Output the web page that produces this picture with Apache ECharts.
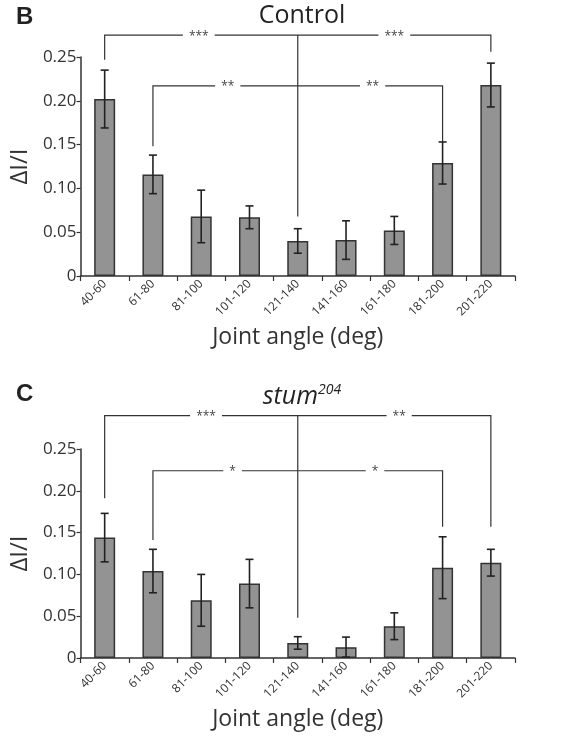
<!DOCTYPE html>
<html>
<head>
<meta charset="utf-8">
<script src="https://cdn.jsdelivr.net/npm/echarts@6/dist/echarts.min.js"></script>
<style>
  html, body { margin: 0; padding: 0; background: #fff; }
  #main { width: 582px; height: 736px; }
</style>
</head>
<body>
<div id="main"></div>
<script>
var categories = ['40-60', '61-80', '81-100', '101-120', '121-140', '141-160', '161-180', '181-200', '201-220'];
var yTicks = [0, 0.05, 0.10, 0.15, 0.20, 0.25];

// panel B: Control
var controlMean = [0.202, 0.116, 0.068, 0.067, 0.040, 0.041, 0.052, 0.129, 0.218];
var controlErr  = [0.033, 0.022, 0.030, 0.013, 0.014, 0.022, 0.016, 0.024, 0.025];
// panel C: stum204
var stumMean = [0.144, 0.104, 0.069, 0.089, 0.018, 0.013, 0.038, 0.108, 0.114];
var stumErr  = [0.029, 0.026, 0.031, 0.029, 0.0075, 0.012, 0.016, 0.037, 0.016];

// significance brackets (category index / data value)
var controlBrackets = [
    {left: 0, right: 8, level: 0.275, leftEnd: 0.247, rightEnd: 0.256, stars: ['***', '***'], starAt: [1.95, 6.0]},
    {left: 1, right: 7, level: 0.217, leftEnd: 0.148, rightEnd: 0.153, stars: ['**', '**'], starAt: [2.55, 5.55]}
];
var controlStem = {at: 4, top: 0.275, bottom: 0.068};
var stumBrackets = [
    {left: 0, right: 8, level: 0.290, leftEnd: 0.191, rightEnd: 0.157, stars: ['***', '**'], starAt: [2.1, 6.1]},
    {left: 1, right: 7, level: 0.224, leftEnd: 0.141, rightEnd: 0.157, stars: ['*', '*'], starAt: [2.65, 5.6]}
];
var stumStem = {at: 4, top: 0.290, bottom: 0.048};

var ink = '#333';
var fontMain = '"Open Sans", "DejaVu Sans", sans-serif';

function errData(mean, err) {
    var out = [];
    for (var i = 0; i < mean.length; i++) {
        out.push([i, mean[i] - err[i], mean[i] + err[i]]);
    }
    return out;
}

function renderErr(params, api) {
    var lo = api.coord([api.value(0), api.value(1)]);
    var hi = api.coord([api.value(0), api.value(2)]);
    var cap = 4;
    var st = {stroke: '#222', lineWidth: 1.6};
    return {
        type: 'group',
        children: [
            {type: 'line', shape: {x1: lo[0], y1: lo[1], x2: hi[0], y2: hi[1]}, style: st},
            {type: 'line', shape: {x1: hi[0] - cap, y1: hi[1], x2: hi[0] + cap, y2: hi[1]}, style: st},
            {type: 'line', shape: {x1: lo[0] - cap, y1: lo[1], x2: lo[0] + cap, y2: lo[1]}, style: st}
        ]
    };
}

function makeBracketRender(list, stem) {
    return function (params, api) {
        var k = api.value(0);
        var st = {stroke: ink, lineWidth: 1.2, fill: null};
        if (k >= list.length) {
            var a = api.coord([stem.at, stem.top]);
            var b = api.coord([stem.at, stem.bottom]);
            return {type: 'line', shape: {x1: a[0], y1: a[1], x2: b[0], y2: b[1]}, style: st};
        }
        var br = list[k];
        var pl = api.coord([br.left, br.level]);
        var pr = api.coord([br.right, br.level]);
        var el = api.coord([br.left, br.leftEnd]);
        var er = api.coord([br.right, br.rightEnd]);
        var step = api.coord([1, br.level])[0] - api.coord([0, br.level])[0];
        var x0 = api.coord([0, br.level])[0];
        var kids = [{
            type: 'polyline',
            shape: {points: [[el[0], el[1]], [pl[0], pl[1]], [pr[0], pr[1]], [er[0], er[1]]]},
            style: st
        }];
        for (var j = 0; j < br.stars.length; j++) {
            kids.push({
                type: 'text',
                style: {
                    x: x0 + step * br.starAt[j],
                    y: pl[1] + 1,
                    text: br.stars[j],
                    fill: '#444',
                    font: '12px ' + fontMain,
                    align: 'center',
                    verticalAlign: 'middle',
                    backgroundColor: '#fff',
                    padding: [0, 6]
                }
            });
        }
        return {type: 'group', children: kids};
    };
}

function bracketData(list) {
    var d = [];
    for (var i = 0; i <= list.length; i++) d.push([i]);
    return d;
}

function xAxisFor(gi) {
    return {
        type: 'category',
        gridIndex: gi,
        data: categories,
        name: 'Joint angle (deg)',
        nameLocation: 'middle',
        nameGap: 50,
        nameTextStyle: {fontSize: 23, color: ink, fontFamily: fontMain},
        axisLine: {lineStyle: {color: ink, width: 1.5}},
        axisTick: {show: true, length: 5, lineStyle: {color: ink, width: 1.2}},
        axisLabel: {rotate: 45, fontSize: 12, color: ink, fontFamily: fontMain, margin: 6, interval: 0},
        splitLine: {show: false}
    };
}

function yAxisFor(gi) {
    return {
        type: 'value',
        gridIndex: gi,
        min: 0,
        max: 0.25,
        interval: 0.05,
        name: 'ΔI/I',
        nameLocation: 'middle',
        nameRotate: 90,
        nameGap: 42,
        nameTextStyle: {fontSize: 24, color: ink, fontFamily: fontMain},
        axisLine: {show: true, lineStyle: {color: ink, width: 1.5}},
        axisTick: {show: true, length: 4, lineStyle: {color: ink, width: 1.2}},
        axisLabel: {
            fontSize: 17, color: ink, fontFamily: fontMain, margin: 4,
            formatter: function (v) {
                for (var i = 0; i < yTicks.length; i++) {
                    if (Math.abs(v - yTicks[i]) < 1e-9) return i === 0 ? '0' : yTicks[i].toFixed(2);
                }
                return '';
            }
        },
        splitLine: {show: false}
    };
}

var chart = echarts.init(document.getElementById('main'), null, {renderer: 'canvas'});
var option = {
    backgroundColor: '#fff',
    animation: false,
    title: [
        {text: 'B', left: 11, top: 0, textStyle: {fontSize: 24, fontWeight: 'bold', color: '#222', fontFamily: '"Liberation Sans", Arial, sans-serif'}},
        {text: 'Control', left: 297, top: -2, textAlign: 'center', textStyle: {fontSize: 25, fontWeight: 'normal', color: '#222', fontFamily: fontMain}},
        {text: 'C', left: 11, top: 377, textStyle: {fontSize: 24, fontWeight: 'bold', color: '#222', fontFamily: '"Liberation Sans", Arial, sans-serif'}},
        {
            text: '{a|stum}{b|204}', left: 297, top: 378, textAlign: 'center',
            textStyle: {
                fontWeight: 'normal',
                rich: {
                    a: {fontSize: 25, fontStyle: 'italic', fontWeight: 'normal', color: '#222', fontFamily: fontMain},
                    b: {fontSize: 14, fontStyle: 'italic', fontWeight: 'normal', color: '#222', fontFamily: fontMain, padding: [0, 0, 13, 0]}
                }
            }
        }
    ],
    grid: [
        {left: 74, right: 67, top: 57, bottom: 460},
        {left: 74, right: 67, top: 449, bottom: 78}
    ],
    xAxis: [xAxisFor(0), xAxisFor(1)],
    yAxis: [yAxisFor(0), yAxisFor(1)],
    series: [
        {
            type: 'bar', xAxisIndex: 0, yAxisIndex: 0, data: controlMean, barWidth: 21,
            itemStyle: {color: '#939393', borderColor: ink, borderWidth: 1.5}, silent: true
        },
        {
            type: 'custom', xAxisIndex: 0, yAxisIndex: 0, data: errData(controlMean, controlErr),
            renderItem: renderErr, z: 5, silent: true
        },
        {
            type: 'custom', xAxisIndex: 0, yAxisIndex: 0, data: bracketData(controlBrackets),
            renderItem: makeBracketRender(controlBrackets, controlStem), clip: false, z: 4, silent: true
        },
        {
            type: 'bar', xAxisIndex: 1, yAxisIndex: 1, data: stumMean, barWidth: 21,
            itemStyle: {color: '#939393', borderColor: ink, borderWidth: 1.5}, silent: true
        },
        {
            type: 'custom', xAxisIndex: 1, yAxisIndex: 1, data: errData(stumMean, stumErr),
            renderItem: renderErr, z: 5, silent: true
        },
        {
            type: 'custom', xAxisIndex: 1, yAxisIndex: 1, data: bracketData(stumBrackets),
            renderItem: makeBracketRender(stumBrackets, stumStem), clip: false, z: 4, silent: true
        }
    ]
};
chart.setOption(option);
</script>
</body>
</html>
